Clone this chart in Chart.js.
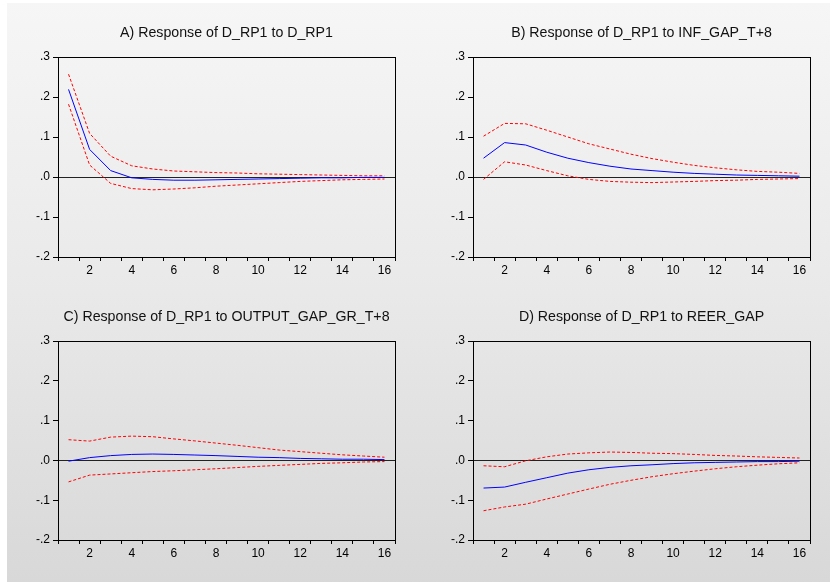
<!DOCTYPE html>
<html>
<head>
<meta charset="utf-8">
<script src="https://cdn.jsdelivr.net/npm/chart.js@4.4.1/dist/chart.umd.min.js"></script>
<style>
  html, body { margin: 0; padding: 0; background: #ffffff; }
  #page { position: relative; width: 830px; height: 582px; overflow: hidden; }
  #bg {
    position: absolute; left: 7px; top: 3px; right: 0; bottom: 0;
    background: linear-gradient(to bottom, #f6f6f6 0%, #e9e9e9 50%, #d8d8d8 100%);
  }
  .panel { position: absolute; }
  canvas { display: block; }
</style>
</head>
<body>
<div id="page">
  <div id="bg"></div>
  <div class="panel" style="left:0;top:0"><canvas id="chartA" width="415" height="290"></canvas></div>
  <div class="panel" style="left:415px;top:0"><canvas id="chartB" width="415" height="290"></canvas></div>
  <div class="panel" style="left:0;top:290px"><canvas id="chartC" width="415" height="292"></canvas></div>
  <div class="panel" style="left:415px;top:290px"><canvas id="chartD" width="415" height="292"></canvas></div>
</div>
<script>
const periods = ["1", "2", "3", "4", "5", "6", "7", "8", "9", "10", "11", "12", "13", "14", "15", "16"];
const yTicks = [-0.2, -0.1, 0, 0.1, 0.2, 0.3];

const titleA = "A) Response of D_RP1 to D_RP1";
const respA = [0.219, 0.069, 0.016, -0.002, -0.006, -0.008, -0.008, -0.007, -0.006, -0.005, -0.004, -0.003, -0.002, -0.002, -0.001, -0.001];
const upperA = [0.257, 0.109, 0.052, 0.028, 0.020, 0.015, 0.013, 0.011, 0.010, 0.008, 0.007, 0.006, 0.005, 0.004, 0.003, 0.003];
const lowerA = [0.182, 0.030, -0.016, -0.029, -0.032, -0.030, -0.027, -0.023, -0.020, -0.017, -0.014, -0.011, -0.009, -0.007, -0.006, -0.005];

const titleB = "B) Response of D_RP1 to INF_GAP_T+8";
const respB = [0.047, 0.086, 0.080, 0.062, 0.047, 0.036, 0.027, 0.020, 0.016, 0.012, 0.009, 0.007, 0.005, 0.004, 0.003, 0.002];
const upperB = [0.102, 0.134, 0.133, 0.117, 0.100, 0.083, 0.070, 0.057, 0.046, 0.037, 0.029, 0.023, 0.018, 0.014, 0.012, 0.009];
const lowerB = [-0.006, 0.038, 0.030, 0.016, 0.003, -0.006, -0.011, -0.013, -0.014, -0.0125, -0.011, -0.009, -0.008, -0.006, -0.005, -0.004];

const titleC = "C) Response of D_RP1 to OUTPUT_GAP_GR_T+8";
const respC = [-0.002, 0.007, 0.012, 0.015, 0.016, 0.015, 0.0135, 0.012, 0.010, 0.008, 0.007, 0.005, 0.004, 0.003, 0.003, 0.002];
const upperC = [0.052, 0.0485, 0.0585, 0.061, 0.0595, 0.054, 0.049, 0.0435, 0.038, 0.032, 0.026, 0.022, 0.018, 0.014, 0.011, 0.008];
const lowerC = [-0.054, -0.037, -0.034, -0.031, -0.028, -0.026, -0.0235, -0.021, -0.018, -0.015, -0.0125, -0.010, -0.0075, -0.006, -0.004, -0.003];

const titleD = "D) Response of D_RP1 to REER_GAP";
const respD = [-0.0695, -0.067, -0.055, -0.0435, -0.032, -0.0235, -0.0175, -0.0135, -0.011, -0.008, -0.006, -0.005, -0.004, -0.003, -0.003, -0.002];
const upperD = [-0.0135, -0.016, -0.001, 0.009, 0.016, 0.019, 0.021, 0.020, 0.018, 0.017, 0.015, 0.0125, 0.011, 0.009, 0.0075, 0.006];
const lowerD = [-0.1265, -0.117, -0.110, -0.097, -0.0845, -0.072, -0.060, -0.050, -0.041, -0.0335, -0.027, -0.021, -0.016, -0.012, -0.0085, -0.006];

const FONT = "'Liberation Sans', Arial, sans-serif";

// plain black frame round the plot area
const framePlugin = {
  id: "frame",
  afterDraw(chart) {
    const { ctx, chartArea } = chart;
    ctx.save();
    ctx.strokeStyle = "#000";
    ctx.lineWidth = 1;
    ctx.strokeRect(
      Math.round(chartArea.left) + 0.5,
      Math.round(chartArea.top) + 0.5,
      Math.round(chartArea.right - chartArea.left),
      Math.round(chartArea.bottom - chartArea.top)
    );
    ctx.restore();
  },
};

function formatTick(value) {
  const v = Math.round(value * 10) / 10;
  if (v === 0) return ".0";
  const text = Math.abs(v).toFixed(1).replace(/^0/, "");
  return v < 0 ? `-${text}` : text;
}

function makeChart(canvasId, title, resp, upper, lower, titleTop, areaTop, axisHeight) {
  const titleSize = 14.2;
  const titleLine = titleSize * 1.2;
  return new Chart(document.getElementById(canvasId), {
    type: "line",
    data: {
      labels: periods,
      datasets: [
        {
          data: upper,
          borderColor: "#ff0000",
          borderWidth: 1,
          borderDash: [3, 2],
          pointRadius: 0,
          tension: 0,
        },
        {
          data: lower,
          borderColor: "#ff0000",
          borderWidth: 1,
          borderDash: [3, 2],
          pointRadius: 0,
          tension: 0,
        },
        {
          data: resp,
          borderColor: "#0000ff",
          borderWidth: 1,
          pointRadius: 0,
          tension: 0,
        },
      ],
    },
    options: {
      responsive: false,
      animation: false,
      layout: { padding: { left: 0, right: 20, top: 0, bottom: 0 } },
      plugins: {
        legend: { display: false },
        tooltip: { enabled: false },
        title: {
          display: true,
          fullSize: false,
          text: title,
          color: "#111",
          font: { family: FONT, size: titleSize, weight: "normal" },
          padding: { top: titleTop - titleLine / 2, bottom: areaTop - titleTop - titleLine / 2 },
        },
      },
      scales: {
        x: {
          type: "category",
          offset: true,
          afterFit(scale) {
            scale.height = axisHeight;
          },
          border: { display: true, color: "#000" },
          grid: {
            offset: true,
            drawOnChartArea: false,
            drawTicks: true,
            tickLength: 4,
            color: "#000",
          },
          ticks: {
            autoSkip: false,
            maxRotation: 0,
            padding: 2,
            color: "#000",
            font: { family: FONT, size: 12 },
            callback: (value, index) => (Number(periods[index]) % 2 === 0 ? periods[index] : ""),
          },
        },
        y: {
          min: yTicks[0],
          max: yTicks[yTicks.length - 1],
          afterFit(scale) {
            scale.width = 58;
          },
          afterBuildTicks(scale) {
            scale.ticks = yTicks.map((value) => ({ value }));
          },
          border: { display: true, color: "#000" },
          grid: {
            drawTicks: true,
            tickLength: 5,
            tickColor: "#000",
            color: (ctx) => (ctx.tick && Math.abs(ctx.tick.value) < 1e-9 ? "#222" : "rgba(0,0,0,0)"),
          },
          ticks: {
            padding: 3,
            color: "#000",
            font: { family: FONT, size: 12 },
            callback: (value) => formatTick(value),
          },
        },
      },
    },
    plugins: [framePlugin],
  });
}

makeChart("chartA", titleA, respA, upperA, lowerA, 33, 57, 33);
makeChart("chartB", titleB, respB, upperB, lowerB, 33, 57, 33);
makeChart("chartC", titleC, respC, upperC, lowerC, 27, 51, 42);
makeChart("chartD", titleD, respD, upperD, lowerD, 27, 51, 42);
</script>
</body>
</html>
